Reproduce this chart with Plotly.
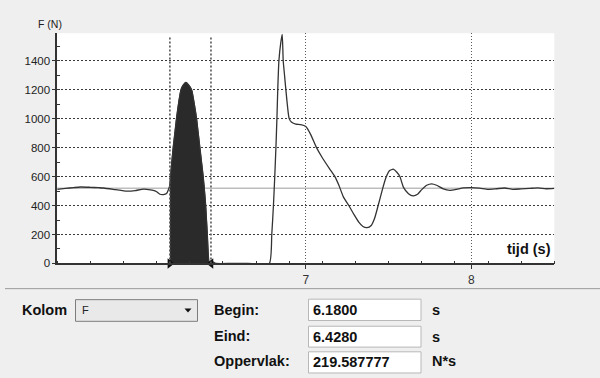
import numpy as np
import plotly.graph_objects as go

# ---------------- data ----------------
time_s = [5.50, 5.55, 5.60, 5.64, 5.70, 5.75, 5.78, 5.85, 5.92, 5.97, 6.01, 6.04, 6.08,
          6.10, 6.12, 6.14, 6.16, 6.18, 6.184, 6.19, 6.20, 6.21, 6.22, 6.233, 6.247,
          6.262, 6.277, 6.292, 6.311, 6.326, 6.341, 6.351, 6.361, 6.371, 6.381,
          6.389, 6.396, 6.406, 6.418, 6.428, 6.44, 6.46, 6.55, 6.65, 6.78, 6.795,
          6.805, 6.813, 6.82, 6.826, 6.831, 6.838, 6.85, 6.858, 6.864, 6.872, 6.88, 6.90,
          6.915, 6.94, 6.97, 7.00, 7.03, 7.065, 7.10, 7.146, 7.176, 7.20, 7.227,
          7.26, 7.29, 7.32, 7.345, 7.37, 7.395, 7.415, 7.437, 7.46, 7.483, 7.505, 7.528,
          7.55, 7.568, 7.59, 7.62, 7.648, 7.675, 7.70, 7.73, 7.76, 7.79, 7.83, 7.87,
          7.91, 7.95, 8.00, 8.05, 8.10, 8.15, 8.20, 8.25, 8.30, 8.35, 8.40, 8.45, 8.50]
force_n = [512, 518, 524, 528, 526, 523, 521, 510, 499, 503, 512, 512, 505,
           495, 478, 476, 483, 540, 600, 680, 800, 900, 1000, 1110, 1200,
           1235, 1250, 1235, 1200, 1110, 1000, 900, 800, 700, 600,
           500, 400, 200, 0, 0, 10, 0, 0, 0, 0, 200,
           400, 600, 800, 1000, 1200, 1400, 1530, 1582, 1400, 1300, 1200, 1000,
           975, 962, 958, 945, 890, 800, 730, 650, 600, 540, 460,
           400, 340, 285, 255, 247, 262, 310, 400, 500, 590, 640, 651,
           630, 600, 525, 482, 467, 478, 510, 540, 550, 540, 515, 505,
           512, 522, 524, 520, 512, 516, 521, 512, 515, 518, 522, 516, 518]

begin_s = 6.18
end_s = 6.428
area_ns = "219.587777"
ref_level = 520
column_name = "F"
x_range = [5.5, 8.5]
y_range = [0, 1590]
y_ticks = [0, 200, 400, 600, 800, 1000, 1200, 1400]
x_ticks = [7, 8]

W, H = 600, 378
def px(x):
    return x / W
def py(y):
    return 1 - y / H

t = np.array(time_s)
f = np.array(force_n)
mask = (t >= begin_s - 1e-9) & (t <= end_s + 1e-9)

fig = go.Figure()

# filled integration area
fig.add_trace(go.Scatter(x=t[mask], y=f[mask], mode="lines", fill="tozeroy",
                         fillcolor="#2a2a2a",
                         line=dict(color="#2a2a2a", width=1, shape="spline", smoothing=0.5),
                         hoverinfo="skip", showlegend=False))
# force curve
fig.add_trace(go.Scatter(x=time_s, y=force_n, mode="lines",
                         line=dict(color="#333333", width=1.3, shape="spline", smoothing=0.5),
                         showlegend=False))
# begin / end markers
fig.add_trace(go.Scatter(x=[begin_s, end_s], y=[0, 0], mode="markers",
                         marker=dict(symbol=["triangle-right", "triangle-left"],
                                     size=9, color="#111111"),
                         cliponaxis=False, showlegend=False))

fig.add_hline(y=ref_level, line=dict(color="#bdbdbd", width=1.5), layer="below")
for xv in (begin_s, end_s):
    fig.add_shape(type="line", x0=xv, x1=xv, y0=0, y1=1560, xref="x", yref="y",
                  line=dict(color="#555555", width=1.6, dash="2px,2px"), layer="above")

fig.update_xaxes(range=x_range, domain=[px(57.2), px(554.3)], tickvals=x_ticks,
                 ticks="outside", ticklen=4, tickcolor="#333", tickwidth=1,
                 showline=True, linecolor="#333333", linewidth=1.5,
                 zeroline=False, tickfont=dict(family="Liberation Sans", size=12, color="#333"),
                 minor=dict(dtick=0.2, tick0=5.5, ticks="inside", ticklen=3, tickcolor="#333",
                            showgrid=False),
                 showgrid=True, gridcolor="#5a5a5a", gridwidth=1, griddash="1px,2px")
fig.update_yaxes(range=y_range, domain=[py(267.7), py(33.75)], tickvals=y_ticks,
                 ticks="outside", ticklen=3, tickcolor="#333", tickwidth=1,
                 showline=True, linecolor="#333333", linewidth=1.5,
                 zeroline=False, tickfont=dict(family="Liberation Sans", size=11.5, color="#222"),
                 minor=dict(dtick=100, ticks="inside", ticklen=3, tickcolor="#333",
                            showgrid=False),
                 showgrid=True, gridcolor="#3a3a3a", gridwidth=1, griddash="2px,2px")

shapes = []
# chart panel and borders
shapes.append(dict(type="rect", xref="paper", yref="paper", x0=px(5), x1=px(600),
                   y0=py(293), y1=py(9.5), fillcolor="white", line=dict(width=0), layer="below"))
shapes.append(dict(type="line", xref="paper", yref="paper", x0=px(5), x1=px(600),
                   y0=py(9.3), y1=py(9.3), line=dict(color="#9a9a9a", width=1.5), layer="below"))
shapes.append(dict(type="line", xref="paper", yref="paper", x0=px(5), x1=px(5),
                   y0=py(293), y1=py(9.3), line=dict(color="#b5b5b5", width=1), layer="below"))
shapes.append(dict(type="line", xref="paper", yref="paper", x0=px(5), x1=px(600),
                   y0=py(293.3), y1=py(293.3), line=dict(color="#9a9a9a", width=1), layer="below"))
# dropdown
shapes.append(dict(type="rect", xref="paper", yref="paper", x0=px(75.5), x1=px(197.5),
                   y0=py(326.5), y1=py(304.5), fillcolor="#e9e9e9",
                   line=dict(color="#7d7d7d", width=1)))
shapes.append(dict(type="path", xref="paper", yref="paper",
                   path=f"M {px(184.5)} {py(313.5)} L {px(191.5)} {py(313.5)} L {px(188)} {py(317.5)} Z",
                   fillcolor="#111", line=dict(width=0)))
# text boxes
for y0, y1 in ((304, 325.7), (331.5, 352.7), (357.5, 379)):
    shapes.append(dict(type="rect", xref="paper", yref="paper", x0=px(308.5), x1=px(421),
                       y0=py(y1), y1=py(y0), fillcolor="white",
                       line=dict(color="#b8b8b8", width=1)))

ann = []
def text(x, y, s, size=15, bold=True, anchor="left", color="#111"):
    ann.append(dict(x=px(x), y=py(y), xref="paper", yref="paper", text=f"<b>{s}</b>" if bold else s,
                    showarrow=False, xanchor=anchor, yanchor="middle",
                    font=dict(family="Liberation Sans", size=size, color=color)))

text(36, 24.5, "F (N)", size=10.5, bold=False, color="#222")
text(552.5, 253.3, "tijd (s)", size=14.5, anchor="right")
text(20, 315, "Kolom", size=14.5)
text(80, 315.5, column_name, size=11, bold=False, color="#222")
text(212, 315, "Begin:", size=14.5)
text(212, 341.5, "Eind:", size=14.5)
text(212, 367, "Oppervlak:", size=14.5)
text(311, 315, f"{begin_s:.4f}", size=14.5)
text(311, 342, f"{end_s:.4f}", size=14.5)
text(311, 368, area_ns, size=14.5)
text(430, 315, "s", size=14.5)
text(430, 342.5, "s", size=14.5)
text(430, 366.5, "N*s", size=14.5)

fig.update_layout(width=W, height=H, margin=dict(l=0, r=0, t=0, b=0),
                  paper_bgcolor="#efefef", plot_bgcolor="white",
                  shapes=shapes, annotations=ann, showlegend=False)

fig.write_html("out.html")
